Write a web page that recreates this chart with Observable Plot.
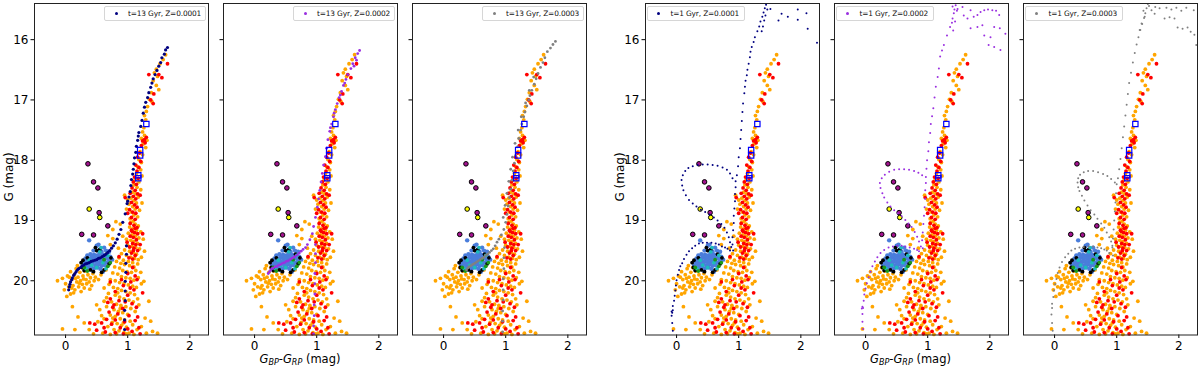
<!DOCTYPE html>
<html><head><meta charset="utf-8">
<script src="https://cdn.jsdelivr.net/npm/d3@7"></script>
<script src="https://cdn.jsdelivr.net/npm/@observablehq/plot@0.6"></script>
<style>
body{margin:0;background:#fff;font-family:"DejaVu Sans",sans-serif;}
#fig{position:relative;width:1200px;height:369px;overflow:hidden;background:#fff;}
.panel{position:absolute;top:0;}
.legend{position:absolute;top:6px;height:13px;border:1px solid #d6d6d6;border-radius:2px;background:rgba(255,255,255,0.85);font-size:7.4px;letter-spacing:-0.15px;line-height:13px;color:#111;white-space:nowrap;}
.legend .mk{position:absolute;top:5px;width:3px;height:3px;border-radius:50%;}
.legend .lt{position:absolute;left:23px;top:0;}
.ylab{position:absolute;width:80px;text-align:center;font-size:12px;transform:rotate(-90deg);transform-origin:50% 50%;color:#000;}
.xlab{position:absolute;width:120px;text-align:center;font-size:11.5px;color:#000;top:352px;}
.xlab sub{font-size:8px;vertical-align:-2px;}
</style></head>
<body><div id="fig"></div>
<script>
// ---------------- DATA ----------------
const xTicks = [0, 1, 2];
const yTicks = [16, 17, 18, 19, 20];

const orangeStars = [
[1.61,16.25],[1.57,16.33],[1.52,16.40],[1.46,16.49],[1.43,16.55],[1.48,16.61],[1.41,16.68],[1.46,16.76],[1.50,16.83],[1.38,16.88],[1.35,16.99],[1.39,17.03],[1.32,17.11],[1.30,17.19],[1.27,17.26],[1.29,17.33],[1.26,17.46],[1.24,17.53],[1.27,17.59],[1.22,17.64],[1.31,17.67],[1.25,17.73],[1.29,17.79],
[1.20,17.86],[1.24,17.91],[1.18,17.99],[1.22,18.04],[1.16,18.11],[1.21,18.16],[1.14,18.22],[1.23,18.26],[1.12,18.33],[1.18,18.36],[1.10,18.41],[1.15,18.45],[1.21,18.49],[1.08,18.53],[1.13,18.56],[1.17,18.61],[1.05,18.63],[1.10,18.67],[1.14,18.71],[1.02,18.73],[1.08,18.77],[1.12,18.81],[1.19,18.83],[1.06,18.86],[1.10,18.91],[1.16,18.94],[1.04,18.97],[1.09,19.01],[0.98,18.81],[1.00,18.66],[1.23,18.71],[0.95,18.58],
[1.05,19.03],[1.12,19.06],[1.17,19.09],[1.03,19.11],[1.08,19.14],[1.14,19.16],[1.21,19.19],[1.01,19.21],[1.07,19.24],[1.12,19.26],[1.18,19.29],[0.98,19.31],[1.05,19.33],[1.10,19.35],[1.16,19.38],[1.00,19.41],[1.07,19.43],[1.13,19.45],[1.19,19.47],[0.95,19.49],[1.03,19.51],[1.09,19.53],[1.14,19.56],[0.90,19.55],[0.98,19.58],[1.05,19.61],[1.11,19.63],[1.17,19.65],[0.86,19.62],[0.93,19.66],[1.01,19.68],[1.08,19.70],[0.82,19.68],[0.89,19.71],[1.25,19.31],[1.27,19.51],[0.85,19.46],[0.88,19.06],[0.92,19.26],[1.22,19.61],[0.81,19.02],[0.76,19.15],
[0.95,19.73],[1.03,19.75],[1.10,19.77],[1.16,19.72],[0.79,19.77],[0.87,19.79],[0.92,19.83],[0.99,19.85],[1.06,19.86],[1.13,19.83],[1.21,19.86],[0.76,19.87],[0.84,19.89],[0.90,19.93],[0.97,19.95],[1.04,19.96],[1.10,19.99],[1.17,19.95],[0.72,19.98],[0.80,20.00],[0.87,20.03],[0.94,20.05],[1.01,20.07],[1.08,20.09],[1.14,20.11],[1.22,20.05],[0.77,20.11],[0.84,20.13],[0.90,20.16],[0.97,20.18],[1.04,20.20],[1.11,20.23],[0.69,20.21],[0.80,20.24],[0.87,20.27],[0.94,20.30],[1.02,20.32],[1.09,20.35],[1.16,20.30],[0.74,20.35],[0.82,20.39],[0.89,20.41],[0.97,20.43],[1.05,20.46],[0.66,20.43],[0.78,20.48],[0.85,20.51],[0.92,20.53],[1.00,20.56],[1.12,20.51],[0.72,20.57],[0.80,20.59],[0.88,20.63],[0.95,20.65],[1.04,20.67],[0.62,20.63],[0.75,20.69],[0.83,20.71],[0.90,20.74],[0.98,20.77],[1.08,20.73],[0.68,20.76],[0.78,20.81],[0.86,20.83],[0.94,20.86],[1.02,20.87],[1.15,20.81],[0.72,20.89],[0.82,20.88],[1.10,20.89],[1.22,20.76],[1.28,20.62],[1.26,20.01],[1.34,20.34],[1.37,20.67],[1.48,20.87],[1.40,20.84],[1.30,20.87],[0.60,20.87],[0.55,20.48],[0.52,20.68],[0.62,20.34],[0.70,20.06],[0.66,20.28],[0.58,20.58],[0.88,20.46],[0.93,20.70],[0.84,20.20],[0.76,20.62],[1.18,20.40],[0.98,20.88],
[-0.13,20.00],[-0.05,19.96],[0.00,20.05],[0.03,19.92],[0.05,20.10],[0.08,19.85],[0.10,19.98],[0.12,20.08],[0.14,19.90],[0.15,20.15],[0.17,19.80],[0.18,20.02],[0.20,19.94],[0.21,20.10],[0.23,19.86],[0.24,20.00],[0.26,19.78],[0.27,20.06],[0.28,19.92],[0.30,20.12],[0.31,19.84],[0.33,19.98],[0.34,20.05],[0.36,19.90],[0.38,20.02],[0.40,19.95],[0.42,20.08],[0.44,19.88],[0.46,20.00],[0.48,19.94],[0.13,20.20],[0.25,20.18],[0.08,20.22],[0.19,19.75],[0.35,19.80],[0.02,20.26],[0.11,20.43],[0.16,19.96],[0.22,20.04],[0.29,19.97],[0.06,19.94],[-0.02,20.15],[0.39,20.14],[0.10,20.12],[0.53,19.98],[0.57,19.90],
[0.15,20.81],[0.38,20.81],[-0.05,20.80],[0.30,20.70],[0.20,20.60],[0.45,20.88],[0.50,20.40],[0.62,20.12],[0.65,19.82],[0.72,19.40],[0.76,19.30],[0.68,19.25]
];

const redStars = [
[1.64,16.40],[1.34,16.58],[1.55,16.63],[1.50,16.58],[1.42,16.90],[1.41,17.06],[1.37,17.00],[1.30,17.62],[1.27,17.66],[1.24,17.68],[1.28,17.71],[1.22,17.76],
[1.19,17.88],[1.16,17.95],[1.21,18.02],[1.13,18.08],[1.18,18.12],[1.15,18.18],[1.11,18.28],[1.17,18.30],[1.09,18.36],[1.14,18.40],[1.07,18.46],[1.12,18.50],[1.04,18.55],[1.16,18.56],[1.09,18.60],[1.13,18.64],[1.06,18.70],[1.11,18.74],[1.15,18.78],[1.03,18.82],[1.08,18.86],[1.13,18.88],[1.06,18.95],[1.12,18.98],[1.00,18.88],[0.96,18.62],[1.20,18.58],
[1.04,19.05],[1.10,19.08],[1.15,19.12],[1.06,19.16],[1.11,19.20],[1.16,19.22],[1.04,19.26],[1.09,19.28],[1.14,19.32],[1.08,19.38],[1.13,19.40],[1.03,19.44],[1.10,19.46],[1.16,19.50],[1.06,19.54],[1.12,19.58],[1.08,19.64],[1.20,19.40],[1.24,19.22],[0.99,19.36],[1.02,19.62],[0.86,19.60],[1.07,19.18],[1.12,19.13],[1.09,19.50],
[1.08,19.78],[1.00,19.88],[1.12,19.92],[1.05,20.02],[0.93,20.08],[1.10,20.15],[0.80,20.18],[1.00,20.24],[0.72,20.30],[0.86,20.33],[1.07,20.38],[0.76,20.44],[0.92,20.46],[1.14,20.44],[0.70,20.52],[0.84,20.55],[1.02,20.58],[0.66,20.64],[0.80,20.65],[0.95,20.68],[1.12,20.66],[0.58,20.70],[0.74,20.72],[0.88,20.78],[1.00,20.80],[1.18,20.78],[0.64,20.85],[0.80,20.86],[0.93,20.88],[1.07,20.84],[0.50,20.82],[1.16,20.60],[0.72,20.02],[0.90,19.98],[0.62,20.78],[1.20,20.88],[1.24,20.20],[0.39,20.70],[0.47,20.72],[0.78,20.40],[1.04,20.12],[0.96,20.35],[1.15,19.98],[0.68,20.36]
];

const blueStars = [
[0.38,19.33],[0.50,19.42],[0.53,19.40],[0.62,19.45],[0.45,19.50],[0.52,19.50],[0.58,19.52],[0.65,19.50],[0.70,19.52],[0.35,19.58],[0.40,19.56],[0.46,19.57],[0.51,19.58],[0.56,19.58],[0.61,19.57],[0.66,19.58],[0.72,19.60],[0.32,19.63],[0.37,19.63],[0.42,19.62],[0.47,19.63],[0.53,19.63],[0.58,19.62],[0.63,19.64],[0.68,19.63],[0.30,19.68],[0.35,19.68],[0.40,19.67],[0.45,19.68],[0.50,19.68],[0.55,19.69],[0.60,19.68],[0.65,19.70],[0.33,19.72],[0.38,19.73],[0.43,19.72],[0.48,19.74],[0.53,19.73],[0.58,19.75],[0.63,19.74],[0.36,19.78],[0.41,19.77],[0.46,19.79],[0.51,19.78],[0.56,19.80],[0.44,19.84],[0.60,19.85],[0.75,19.65],[0.28,19.74],[0.48,19.60],[0.55,19.55],[0.42,19.58],[0.62,19.60],[0.39,19.70],[0.70,19.68],[0.52,19.71],[0.57,19.66],[0.47,19.66],[0.34,19.76]
];
const blackStars = [[0.25,19.70],[0.27,19.78],[0.30,19.83],[0.45,19.85],[0.40,19.82],[0.58,19.86],[0.62,19.82],[0.70,19.72],[0.73,19.62],[0.48,19.45],[0.50,19.50],[0.35,19.62],[0.66,19.56],[0.55,19.48],[0.28,19.66]];
const cyanStars = [[0.55,19.52],[0.42,19.74],[0.50,19.78],[0.65,19.80],[0.60,19.70],[0.38,19.66],[0.68,19.58],[0.33,19.80],[0.57,19.45]];
const greenStars = [[0.30,19.78],[0.72,19.70],[0.62,19.65],[0.35,19.84],[0.68,19.76]];
const magentaStars = [[0.36,18.06],[0.45,18.36],[0.52,18.46],[0.54,18.87],[0.68,19.09],[0.26,19.23],[0.45,19.24]];
const yellowStars = [[0.38,18.81],[0.55,18.95]];
const squareStars = [[1.30,17.40],[1.20,17.83],[1.20,17.92],[1.17,18.25],[1.17,18.30]];

// isochrone t=13 Gyr, Z=0.0001
const iso13z1 = [
[1.64,16.13],[1.59,16.24],[1.53,16.38],[1.47,16.51],[1.41,16.65],[1.37,16.79],[1.32,16.96],[1.27,17.12],[1.23,17.34],[1.18,17.54],[1.16,17.67],[1.13,17.87],[1.10,18.06],[1.08,18.23],[1.05,18.42],[1.02,18.61],[0.99,18.72],[0.96,18.89],[0.92,19.03],
[1.61,16.17],[1.55,16.30],[1.50,16.44],[1.44,16.58],[1.39,16.72],[1.34,16.88],[1.29,17.04],[1.25,17.22],[1.21,17.44],[1.17,17.60],[1.14,17.77],[1.11,17.96],[1.09,18.15],[1.06,18.32],[1.04,18.52],[1.00,18.68],
[0.89,19.15],[0.86,19.23],[0.83,19.31],[0.80,19.37],
[0.05,20.15],[0.06,20.10],[0.07,20.06],[0.08,20.02],[0.10,19.98],[0.11,19.95],[0.13,19.91],[0.15,19.88],[0.17,19.85],[0.19,19.82],[0.21,19.80],[0.24,19.78],[0.26,19.76],[0.29,19.74],[0.32,19.72],[0.35,19.71],[0.38,19.70],[0.41,19.68],[0.44,19.67],[0.47,19.66],[0.50,19.65],[0.53,19.63],[0.56,19.62],[0.59,19.60],[0.62,19.58],[0.65,19.56],[0.68,19.53],[0.71,19.50],[0.74,19.46],[0.77,19.42],
[0.98,19.42],[0.98,19.56],[0.97,19.71],[0.97,19.86],[0.96,20.01],[0.96,20.17],[0.96,20.33],[0.95,20.49],[0.95,20.65],[0.95,20.81]
];
// isochrone t=13 Gyr, Z=0.0002
const iso13z2 = [
[1.69,16.18],[1.66,16.23],[1.62,16.30],[1.58,16.40],[1.55,16.48],[1.50,16.58],[1.47,16.66],[1.43,16.76],[1.40,16.86],[1.36,16.96],[1.33,17.06],[1.30,17.16],[1.27,17.28],[1.24,17.40],[1.21,17.52],[1.18,17.66],[1.16,17.80],[1.14,17.94],[1.11,18.08],[1.09,18.22],[1.07,18.36],[1.05,18.50],[1.03,18.64],[1.01,18.78],[0.98,18.95],[0.95,19.10],[0.93,19.22],[0.89,19.32],[0.85,19.40],[0.82,19.45],
[1.64,16.34],[1.60,16.44],[1.45,16.72],[1.38,16.92],[1.28,17.22],[1.22,17.46],
[0.22,19.88],[0.24,19.85],[0.26,19.82],[0.28,19.80],[0.30,19.79],[0.33,19.77],[0.36,19.76],[0.39,19.74],[0.42,19.73],[0.45,19.71],[0.48,19.70],[0.51,19.68],[0.54,19.67],[0.57,19.65],[0.60,19.63],[0.63,19.61],[0.66,19.59],[0.69,19.57],[0.72,19.54],[0.75,19.51],[0.78,19.48],
[0.98,19.40],[0.98,19.55],[0.98,19.70],[0.97,19.88],[0.97,20.05],[0.97,20.22],[0.96,20.40],[0.96,20.58],[0.95,20.75],[0.95,20.88]
];
// isochrone t=13 Gyr, Z=0.0003
const iso13z3 = [
[1.80,16.03],[1.76,16.08],[1.72,16.14],[1.67,16.20],[1.63,16.30],[1.60,16.38],[1.56,16.46],[1.52,16.56],[1.49,16.65],[1.46,16.74],[1.42,16.84],[1.39,16.93],[1.37,17.00],[1.34,17.10],[1.31,17.20],[1.29,17.28],[1.26,17.40],[1.24,17.50],[1.21,17.64],[1.19,17.78],[1.16,17.92],[1.14,18.05],[1.12,18.18],[1.10,18.33],[1.08,18.48],[1.06,18.62],[1.04,18.76],[1.02,18.90],[1.00,19.03],[0.97,19.15],[0.93,19.24],[0.89,19.31],
[1.45,16.62],[1.38,16.84],[1.32,17.05],[1.25,17.28],[1.20,17.50],[1.15,17.72],[1.11,17.95],[1.08,18.15],[1.05,18.35],[1.02,18.55],[0.99,18.75],[0.96,18.95],
[0.37,19.82],[0.39,19.79],[0.41,19.77],[0.44,19.75],[0.47,19.73],[0.50,19.71],[0.53,19.69],[0.56,19.67],[0.59,19.65],[0.62,19.63],[0.65,19.61],[0.68,19.58],[0.71,19.56],[0.74,19.53],[0.77,19.50],[0.80,19.47],[0.83,19.42],[0.86,19.36],
[0.98,19.45],[0.97,19.62],[0.97,19.80],[0.96,19.97],[0.96,20.15],[0.96,20.32],[0.95,20.50],[0.95,20.67],[0.95,20.85]
];
// isochrone t=1 Gyr, Z=0.0001
const iso1z1 = [
[-0.06,20.83],[-0.07,20.70],[-0.08,20.58],[-0.08,20.51],[-0.07,20.53],[-0.06,20.49],[-0.06,20.42],[-0.04,20.33],[-0.03,20.25],[-0.02,20.16],[-0.01,20.08],[0.00,19.99],[0.02,19.90],[0.04,19.82],[0.06,19.76],[0.09,19.71],[0.12,19.64],[0.16,19.57],[0.20,19.51],[0.25,19.46],[0.30,19.42],[0.36,19.38],[0.42,19.37],[0.49,19.37],[0.56,19.37],[0.63,19.38],[0.68,19.40],[0.73,19.43],[0.78,19.45],[0.82,19.47],[0.86,19.50],
[0.90,18.30],[0.86,18.22],[0.81,18.16],[0.74,18.12],[0.66,18.09],[0.58,18.08],[0.50,18.07],[0.42,18.07],[0.34,18.08],[0.26,18.10],[0.19,18.13],[0.14,18.18],[0.10,18.25],[0.08,18.33],[0.09,18.42],[0.11,18.50],[0.15,18.58],[0.20,18.66],[0.26,18.72],[0.32,18.77],[0.39,18.82],[0.46,18.86],[0.53,18.90],[0.60,18.95],[0.66,19.00],[0.72,19.06],[0.77,19.12],[0.81,19.20],[0.84,19.28],[0.86,19.36],[0.88,19.44],
[0.95,18.35],[0.95,18.45],[0.94,18.56],[0.94,18.68],[0.93,18.80],[0.92,18.92],[0.92,19.04],[0.91,19.16],[0.90,19.28],[0.90,19.40],[0.91,19.50],
[0.97,18.25],[0.99,18.10],[1.00,17.95],[1.02,17.80],[1.03,17.65],[1.04,17.50],[1.05,17.35],[1.06,17.20],[1.07,17.06],[1.09,16.89],[1.10,16.78],[1.11,16.68],[1.13,16.59],[1.14,16.50],[1.16,16.40],[1.18,16.29],[1.19,16.20],[1.21,16.12],[1.24,16.04],[1.26,15.96],[1.30,15.86],[1.33,15.78],[1.35,15.70],[1.38,15.62],[1.40,15.55],[1.42,15.48],[1.44,15.42],
[1.39,15.78],[1.41,15.68],[1.43,15.60],[1.46,15.50],[1.37,15.86],
[1.51,15.49],[1.64,15.68],[1.69,15.57],[1.79,15.62],[1.95,15.50],[1.95,15.67],[2.09,15.56],[2.11,15.82],[2.26,16.05]
];
// isochrone t=1 Gyr, Z=0.0002
const iso1z2 = [
[-0.04,20.80],[-0.05,20.68],[-0.05,20.55],[-0.06,20.46],[-0.04,20.45],[-0.05,20.43],[-0.03,20.33],[-0.02,20.23],[0.00,20.13],[0.02,20.04],[0.05,19.94],[0.08,19.85],[0.11,19.76],[0.15,19.68],[0.19,19.61],[0.24,19.54],[0.30,19.49],[0.37,19.45],[0.44,19.43],[0.51,19.42],[0.58,19.42],[0.64,19.43],[0.71,19.45],[0.78,19.47],[0.83,19.49],[0.86,19.51],
[0.97,18.28],[0.91,18.25],[0.85,18.21],[0.78,18.18],[0.70,18.16],[0.62,18.15],[0.54,18.15],[0.46,18.16],[0.38,18.19],[0.31,18.24],[0.26,18.30],[0.23,18.38],[0.24,18.46],[0.27,18.55],[0.30,18.62],[0.35,18.70],[0.40,18.77],[0.46,18.83],[0.52,18.88],[0.58,18.93],[0.64,18.99],[0.69,19.05],[0.74,19.11],[0.79,19.19],[0.83,19.27],[0.86,19.35],[0.89,19.43],
[0.97,18.38],[0.96,18.50],[0.96,18.64],[0.95,18.78],[0.94,18.92],[0.93,19.06],[0.92,19.20],[0.91,19.33],[0.92,19.46],
[0.98,18.14],[0.99,18.00],[1.01,17.85],[1.02,17.70],[1.04,17.55],[1.05,17.40],[1.07,17.27],[1.09,17.14],[1.11,16.96],[1.13,16.78],[1.16,16.62],[1.18,16.48],[1.20,16.28],[1.23,16.18],[1.26,16.09],[1.31,15.93],[1.36,15.79],[1.40,15.65],[1.43,15.50],[1.45,15.43],
[1.40,15.45],[1.42,15.56],[1.39,15.72],[1.44,15.70],[1.41,15.85],[1.47,15.52],
[1.48,15.49],[1.56,15.46],[1.58,15.60],[1.64,15.65],[1.69,15.51],[1.74,15.62],[1.80,15.59],[1.85,15.54],[1.91,15.51],[2.04,15.51],[2.15,15.59],[2.25,15.90],[1.80,15.79],[1.88,15.76],[1.91,15.93],[2.01,15.96],[2.07,15.79],[2.16,15.81],[1.98,16.09],[2.07,16.12],[2.17,16.17],[1.69,15.81],[1.97,15.50],[2.10,15.52]
];
// isochrone t=1 Gyr, Z=0.0003
const iso1z3 = [
[-0.03,20.83],[-0.04,20.70],[-0.05,20.56],[-0.04,20.45],[-0.04,20.38],[-0.02,20.27],[-0.01,20.16],[0.01,20.06],[0.03,19.97],[0.05,19.87],[0.08,19.78],[0.12,19.69],[0.17,19.61],[0.22,19.55],[0.27,19.50],[0.33,19.47],[0.40,19.45],[0.47,19.44],[0.55,19.43],[0.62,19.43],[0.69,19.45],[0.75,19.46],[0.80,19.48],[0.84,19.50],[0.88,19.54],
[0.97,18.37],[0.91,18.31],[0.85,18.26],[0.78,18.23],[0.70,18.20],[0.62,18.18],[0.54,18.18],[0.47,18.20],[0.41,18.24],[0.38,18.30],[0.37,18.37],[0.38,18.45],[0.40,18.51],[0.44,18.59],[0.48,18.67],[0.53,18.75],[0.58,18.83],[0.64,18.90],[0.69,18.97],[0.75,19.05],[0.80,19.12],[0.84,19.20],[0.88,19.28],[0.91,19.35],[0.93,19.42],
[1.00,18.40],[0.99,18.55],[0.98,18.70],[0.97,18.85],[0.96,19.00],[0.95,19.15],[0.94,19.30],[0.93,19.45],[0.94,19.58],
[1.02,18.30],[1.04,18.15],[1.06,17.98],[1.08,17.80],[1.10,17.62],[1.12,17.44],[1.14,17.26],[1.16,17.08],[1.18,16.90],[1.20,16.72],[1.23,16.55],[1.26,16.38],[1.29,16.22],[1.32,16.08],[1.35,15.96],[1.38,15.84],[1.41,15.74],[1.44,15.64],[1.46,15.56],[1.48,15.48],[1.50,15.41],
[1.45,15.62],[1.40,15.73],[1.37,15.84],[1.43,15.52],
[1.52,15.44],[1.56,15.51],[1.61,15.57],[1.62,15.46],[1.69,15.48],[1.80,15.47],[1.88,15.50],[1.96,15.47],[2.04,15.52],[2.12,15.47],[2.24,15.51],[1.77,15.65],[1.85,15.63],[1.93,15.65],[1.98,15.80],[2.06,15.82],[2.14,15.80],[2.19,15.87],[2.25,15.92],[2.28,16.09]
];

const panelDefs = [
  {frameLeft: 34,    iso: iso13z1, color: "#000080", r: 1.6, label: "t=13 Gyr, Z=0.0001", legendRight: true,  yLabels: true,  xTitle: false},
  {frameLeft: 223,   iso: iso13z2, color: "#9a2fe0", r: 1.4, label: "t=13 Gyr, Z=0.0002", legendRight: true,  yLabels: false, xTitle: true},
  {frameLeft: 412,   iso: iso13z3, color: "#808080", r: 1.4, label: "t=13 Gyr, Z=0.0003", legendRight: true,  yLabels: false, xTitle: false},
  {frameLeft: 644.5, iso: iso1z1,  color: "#000080", r: 1.0, label: "t=1 Gyr, Z=0.0001",  legendRight: false, yLabels: true,  xTitle: false},
  {frameLeft: 833.5, iso: iso1z2,  color: "#9a2fe0", r: 1.0, label: "t=1 Gyr, Z=0.0002",  legendRight: false, yLabels: false, xTitle: true},
  {frameLeft: 1022.5,iso: iso1z3,  color: "#808080", r: 1.0, label: "t=1 Gyr, Z=0.0003",  legendRight: false, yLabels: false, xTitle: false}
];

// ---------------- DRAW ----------------
const fig = document.getElementById("fig");
const FW = 174, ML = 40, MR = 4, MT = 3, MB = 34.5, H = 369;
const px = d => d[0], py = d => d[1];
const RS = 1.9;

for (const p of panelDefs) {
  const chart = Plot.plot({
    width: ML + FW + MR, height: H,
    marginLeft: ML, marginRight: MR, marginTop: MT, marginBottom: MB,
    style: {fontFamily: "DejaVu Sans", fontSize: "12px", color: "#000", background: "transparent", overflow: "visible"},
    x: {domain: [-0.5, 2.3], ticks: xTicks, tickSize: 3.5, tickPadding: 2.5, label: null, tickFormat: d => String(d)},
    y: {domain: [20.9, 15.4], ticks: yTicks, tickSize: 3.5, tickPadding: 2.5, label: null,
        tickFormat: p.yLabels ? (d => String(d)) : (() => "")},
    marks: [
      Plot.dot(orangeStars, {x: px, y: py, r: RS, fill: "#ffa500"}),
      Plot.dot(redStars, {x: px, y: py, r: RS, fill: "#ff0000"}),
      Plot.dot(blueStars, {x: px, y: py, r: 2.2, fill: "#4a7ddb"}),
      Plot.dot(blackStars, {x: px, y: py, r: RS, fill: "#000"}),
      Plot.dot(cyanStars, {x: px, y: py, r: RS, fill: "#1cbcbc"}),
      Plot.dot(greenStars, {x: px, y: py, r: RS, fill: "#1a9a1a"}),
      Plot.dot(magentaStars, {x: px, y: py, r: 2.3, fill: "#a3128f", stroke: "#000", strokeWidth: 1}),
      Plot.dot(yellowStars, {x: px, y: py, r: 2.3, fill: "#ffff00", stroke: "#000", strokeWidth: 1}),
      Plot.dot(p.iso, {x: px, y: py, r: p.r, fill: p.color}),
      Plot.dot(squareStars, {x: px, y: py, r: 3, symbol: "square", fill: "none", stroke: "#0000ff", strokeWidth: 1.2}),
      Plot.frame({stroke: "#222", strokeWidth: 1})
    ]
  });
  chart.classList.add("panel");
  chart.style.left = (p.frameLeft - ML) + "px";
  fig.appendChild(chart);

  // legend
  const lg = document.createElement("div");
  lg.className = "legend";
  const lw = p.legendRight ? 100 : 96;
  lg.style.width = lw + "px";
  lg.style.left = (p.legendRight ? p.frameLeft + FW - lw - 4 : p.frameLeft + 2) + "px";
  const mk = document.createElement("span");
  mk.className = "mk"; mk.style.background = p.color; mk.style.left = "9.5px";
  const lt = document.createElement("span");
  lt.className = "lt"; lt.textContent = p.label;
  lg.appendChild(mk); lg.appendChild(lt);
  fig.appendChild(lg);

  if (p.yLabels) {
    const yl = document.createElement("div");
    yl.className = "ylab"; yl.textContent = "G (mag)";
    yl.style.left = (p.frameLeft - 25 - 40) + "px";
    yl.style.top = (178 - 8) + "px";
    fig.appendChild(yl);
  }
  if (p.xTitle) {
    const xl = document.createElement("div");
    xl.className = "xlab";
    xl.innerHTML = "<i>G</i><sub><i>BP</i></sub>-<i>G</i><sub><i>RP</i></sub> (mag)";
    xl.style.left = (p.frameLeft + FW / 2 - 10 - 60) + "px";
    fig.appendChild(xl);
  }
}
</script>
</body></html>
